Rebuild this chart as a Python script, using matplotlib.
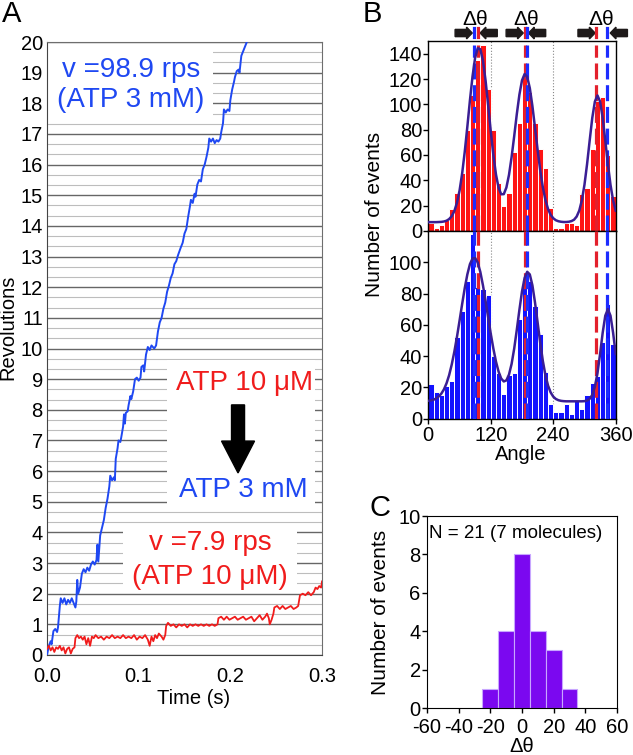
import matplotlib
matplotlib.use("Agg")
import matplotlib.pyplot as plt
import matplotlib.transforms as mtransforms
from matplotlib.patches import Rectangle, FancyArrow
from matplotlib.lines import Line2D

plt.rcParams['font.family'] = ['Liberation Sans', 'DejaVu Sans']
plt.rcParams['axes.unicode_minus'] = False

# ---------------- data: panel A (rotation traces) ----------------
blue_t = [0.000, 0.002, 0.004, 0.005, 0.007, 0.009, 0.011, 0.012, 0.014, 0.015,
          0.017, 0.019, 0.021, 0.023, 0.025, 0.027, 0.029, 0.031, 0.032, 0.033,
          0.034, 0.036, 0.038, 0.040, 0.042, 0.044, 0.046, 0.048, 0.050, 0.052,
          0.054, 0.055, 0.056, 0.058, 0.060, 0.062, 0.064, 0.066, 0.068, 0.069,
          0.071, 0.073, 0.074, 0.075, 0.077, 0.078, 0.080, 0.081, 0.083, 0.084,
          0.085, 0.086, 0.088, 0.089, 0.091, 0.092, 0.094, 0.096, 0.098, 0.100,
          0.102, 0.103, 0.105, 0.106, 0.108, 0.110, 0.112, 0.114, 0.117, 0.119,
          0.121, 0.123, 0.125, 0.127, 0.129, 0.131, 0.133, 0.135, 0.137, 0.139,
          0.141, 0.143, 0.146, 0.148, 0.150, 0.152, 0.154, 0.156, 0.157, 0.159,
          0.161, 0.162, 0.164, 0.166, 0.168, 0.170, 0.172, 0.174, 0.176, 0.177,
          0.179, 0.181, 0.183, 0.185, 0.187, 0.189, 0.190, 0.192, 0.193, 0.195,
          0.197, 0.199, 0.200, 0.202, 0.204, 0.205, 0.207, 0.209, 0.210, 0.212,
          0.214, 0.216, 0.218, 0.220]
blue_rev = [0.00, 0.30, 0.45, 0.35, 0.78, 0.85, 0.75, 0.90, 1.60, 1.85,
            1.70, 1.85, 1.65, 1.80, 1.70, 1.85, 1.70, 1.55, 1.75, 2.45,
            2.00, 2.20, 2.65, 2.80, 2.70, 2.85, 2.75, 2.95, 3.05, 2.95,
            3.10, 3.60, 3.05, 3.90, 4.15, 4.40, 4.80, 5.10, 5.50, 5.85,
            5.70, 5.80, 5.70, 6.40, 6.75, 7.00, 6.95, 7.10, 7.45, 7.85,
            7.55, 7.90, 7.95, 8.15, 8.45, 8.35, 8.60, 9.00, 9.05, 8.95,
            9.05, 9.40, 9.45, 9.25, 9.80, 10.05, 9.95, 10.10, 10.00, 10.10,
            10.55, 10.85, 11.00, 11.30, 11.50, 11.85, 12.05, 12.30, 12.45, 12.75,
            12.85, 13.05, 13.30, 13.45, 13.75, 13.90, 14.30, 14.65, 14.85, 14.75,
            15.05, 14.95, 15.35, 15.50, 15.45, 15.85, 16.00, 16.25, 16.55, 16.85,
            16.75, 16.85, 16.70, 16.80, 16.75, 16.85, 17.05, 17.35, 17.80, 17.70,
            17.80, 17.75, 18.10, 18.45, 18.70, 18.85, 19.05, 19.10, 19.00, 19.55,
            19.70, 19.85, 20.00, 20.15]

red_t = [0.000, 0.002, 0.004, 0.006, 0.008, 0.010, 0.012, 0.014, 0.016, 0.018,
         0.020, 0.022, 0.024, 0.026, 0.028, 0.030, 0.031, 0.033, 0.035, 0.037,
         0.039, 0.041, 0.043, 0.045, 0.047, 0.049, 0.051, 0.053, 0.056, 0.059,
         0.062, 0.065, 0.068, 0.071, 0.074, 0.077, 0.080, 0.083, 0.086, 0.089,
         0.092, 0.095, 0.098, 0.101, 0.104, 0.107, 0.110, 0.112, 0.114, 0.116,
         0.118, 0.120, 0.122, 0.125, 0.127, 0.129, 0.130, 0.132, 0.135, 0.138,
         0.141, 0.144, 0.147, 0.150, 0.153, 0.156, 0.159, 0.162, 0.165, 0.168,
         0.171, 0.174, 0.177, 0.180, 0.183, 0.186, 0.187, 0.190, 0.193, 0.196,
         0.199, 0.202, 0.205, 0.208, 0.211, 0.214, 0.217, 0.220, 0.223, 0.226,
         0.229, 0.232, 0.235, 0.238, 0.240, 0.242, 0.243, 0.245, 0.247, 0.248,
         0.251, 0.254, 0.257, 0.260, 0.263, 0.266, 0.269, 0.272, 0.274, 0.276,
         0.279, 0.282, 0.285, 0.288, 0.291, 0.293, 0.295, 0.297, 0.299, 0.300]
red_rev = [0.20, 0.30, 0.15, 0.25, 0.10, 0.25, 0.20, 0.30, 0.15, 0.25,
           0.05, 0.20, 0.25, 0.05, 0.20, 0.25, 0.55, 0.65, 0.55, 0.60,
           0.50, 0.60, 0.35, 0.55, 0.30, 0.60, 0.55, 0.65, 0.55, 0.60,
           0.50, 0.60, 0.55, 0.65, 0.55, 0.60, 0.55, 0.65, 0.55, 0.60,
           0.55, 0.65, 0.50, 0.60, 0.55, 0.65, 0.50, 0.30, 0.60, 0.45,
           0.65, 0.55, 0.70, 0.60, 0.50, 0.65, 0.95, 1.05, 0.95, 1.00,
           0.90, 1.00, 0.95, 1.00, 0.90, 1.00, 0.95, 1.00, 0.95, 1.00,
           0.95, 1.00, 0.95, 1.00, 0.95, 1.00, 1.20, 1.25, 1.15, 1.25,
           1.15, 1.20, 1.25, 1.15, 1.20, 1.25, 1.15, 1.20, 1.25, 1.10,
           1.20, 1.30, 1.15, 1.25, 1.35, 1.20, 1.00, 1.15, 1.35, 1.55,
           1.60, 1.50, 1.60, 1.50, 1.55, 1.60, 1.50, 1.55, 1.60, 1.95,
           2.00, 1.95, 2.05, 1.95, 2.05, 2.20, 2.15, 2.25, 2.20, 2.40]

# ---------------- data: panel B (angle histograms) ----------------
bin_left = list(range(0, 360, 10))
red_counts = [6, 2, 5, 9, 17, 30, 46, 80, 107, 135,
              147, 112, 80, 38, 20, 30, 62, 85, 122, 110,
              85, 65, 50, 18, 2, 2, 6, 6, 5, 29,
              34, 65, 103, 106, 60, 28]
blue_counts = [22, 17, 15, 21, 24, 52, 69, 88, 118, 84,
               83, 79, 40, 29, 16, 28, 29, 64, 88, 88,
               72, 54, 30, 9, 4, 4, 9, 3, 11, 6,
               15, 23, 27, 49, 73, 48]

fit_angle = list(range(0, 361, 5))
red_fit = [7.0, 7.0, 7.0, 7.0, 7.1, 7.2, 7.5, 8.1, 9.4, 11.7,
           15.7, 22.2, 31.8, 45.3, 62.5, 82.3, 103.2, 122.2, 136.9, 144.3,
           143.5, 134.4, 118.8, 99.2, 78.7, 59.9, 44.6, 34.2, 29.0, 29.1,
           34.3, 44.3, 58.3, 74.8, 92.2, 107.6, 118.9, 123.9, 121.7, 112.8,
           98.6, 81.5, 64.0, 47.9, 34.6, 24.5, 17.4, 12.8, 10.1, 8.5,
           7.7, 7.3, 7.1, 7.1, 7.3, 7.8, 8.9, 11.4, 16.1, 24.2,
           36.5, 52.8, 71.4, 89.3, 102.2, 107.0, 102.2, 89.3, 71.4, 52.8,
           36.5, 24.2, 16.1]
blue_fit = [11.3, 11.6, 12.0, 12.8, 14.1, 15.9, 18.6, 22.5, 27.7, 34.5,
            42.7, 52.1, 62.5, 73.2, 83.4, 92.2, 98.8, 102.4, 102.7, 99.8,
            93.7, 85.2, 75.3, 64.6, 54.2, 44.7, 36.4, 30.0, 25.6, 23.7,
            24.4, 28.1, 34.9, 44.7, 56.7, 69.5, 81.3, 89.9, 93.9, 92.2,
            85.2, 74.2, 61.4, 48.4, 36.9, 27.7, 21.1, 16.7, 14.0, 12.5,
            11.7, 11.3, 11.1, 11.0, 11.0, 11.0, 11.0, 11.0, 11.0, 11.0,
            11.1, 11.5, 12.6, 15.1, 20.3, 29.1, 41.3, 54.9, 65.8, 70.0,
            65.8, 54.9, 41.3]

red_centers = [96, 185, 323]
blue_centers = [87, 190, 344]
# (left arrow tip, right arrow tip, delta-theta label position) in degrees
pair_arrows = [(84.5, 99.5, 91), (182.5, 192.5, 188), (320.5, 349.5, 332)]

# ---------------- data: panel C (delta theta histogram) ----------------
dtheta_centers = [-20, -10, 0, 10, 20, 30]
dtheta_counts = [1, 4, 8, 4, 3, 1]

# ---------------- styling ----------------
W, H = 633, 755
A_BLUE = '#1f48f2'
A_RED = '#f01c1c'
B_RED = '#ff1414'
B_BLUE = '#1212ff'
D_RED = '#e3202c'
D_BLUE = '#1c2cff'
FIT = '#3a1e94'
PURPLE = '#7b08f0'
TICK_FS = 14.5


def rect(x0, y0, x1, y1):
    # pixel box (origin top-left) -> figure fraction
    return [x0 / W, 1 - y1 / H, (x1 - x0) / W, (y1 - y0) / H]


fig = plt.figure(figsize=(W / 100, H / 100), dpi=100)

# ================= Panel A =================
axA = fig.add_axes(rect(47, 42, 322, 655))
axA.set_axisbelow(True)
axA.plot(blue_t, blue_rev, color=A_BLUE, lw=1.4, zorder=3)
axA.plot(red_t, red_rev, color=A_RED, lw=1.3, zorder=3)
axA.set_xlim(0, 0.3)
axA.set_ylim(0, 20)
axA.set_yticks(range(0, 21))
axA.set_yticks([k / 3 for k in range(60) if k % 3], minor=True)
axA.grid(which='major', axis='y', color='#666666', lw=1.0)
axA.grid(which='minor', axis='y', color='#bdbdbd', lw=0.8)
axA.set_xticks([0, 0.1, 0.2, 0.3])
axA.set_xticklabels(['0.0', '0.1', '0.2', '0.3'])
axA.tick_params(which='both', length=0, labelsize=TICK_FS, pad=3)
axA.tick_params(axis='x', pad=9)
for s in axA.spines.values():
    s.set_color('#6e6e6e')
axA.spines['left'].set_color('#444444')
axA.spines['bottom'].set_color('#444444')

# white label boxes over the grid
for (x0, y0, x1, y1) in [(0.0015, 17.5, 0.181, 19.85),
                         (0.131, 4.8, 0.292, 9.62),
                         (0.083, 2.06, 0.273, 4.24)]:
    axA.add_patch(Rectangle((x0, y0), x1 - x0, y1 - y0, facecolor='white',
                            edgecolor='none', zorder=1))

axA.text(0.0917, 19.09, 'v =98.9 rps', color=A_BLUE, fontsize=20, ha='center', va='center', zorder=4)
axA.text(0.0917, 18.10, '(ATP 3 mM)', color=A_BLUE, fontsize=20, ha='center', va='center', zorder=4)
axA.text(0.215, 8.87, 'ATP 10 μM', color=A_RED, fontsize=20, ha='center', va='center', zorder=4)
axA.text(0.214, 5.38, 'ATP 3 mM', color=A_BLUE, fontsize=20, ha='center', va='center', zorder=4)
axA.text(0.178, 3.65, 'v =7.9 rps', color=A_RED, fontsize=20, ha='center', va='center', zorder=4)
axA.text(0.178, 2.55, '(ATP 10 μM)', color=A_RED, fontsize=20, ha='center', va='center', zorder=4)
axA.add_patch(FancyArrow(0.2084, 8.16, 0, -2.22, width=0.0142, head_width=0.036,
                         head_length=1.04, length_includes_head=True,
                         color='black', zorder=4))

fig.text(8 / W, 1 - 327 / H, 'Revolutions', rotation=90, fontsize=14.5, ha='center', va='center')
fig.text(193.5 / W, 1 - 699 / H, 'Time (s)', fontsize=14.5, ha='center', va='center')
fig.text(12 / W, 1 - 14 / H, 'A', fontsize=21, ha='center', va='center')

# ================= Panel B =================
axB1 = fig.add_axes(rect(428.3, 41, 615.7, 231))
axB2 = fig.add_axes(rect(428.3, 231, 615.7, 418.5))

for ax, counts, col, fit, ylim, yt in [
        (axB1, red_counts, B_RED, red_fit, 150, range(0, 141, 20)),
        (axB2, blue_counts, B_BLUE, blue_fit, 120, range(0, 101, 20))]:
    ax.bar(bin_left, counts, width=10, align='edge', color=col,
           edgecolor='white', linewidth=0.7, zorder=2)
    for a in (120, 240):
        ax.axvline(a, color='#888888', ls=':', lw=0.8, zorder=1)
    for a in red_centers:
        ax.axvline(a, color=D_RED, lw=2.3, dashes=(5, 1.8), zorder=3,
                   ymax=0.98 if ax is axB1 else 1)
    for a in blue_centers:
        ax.axvline(a, color=D_BLUE, lw=2.3, dashes=(5, 1.8), zorder=3,
                   ymax=0.98 if ax is axB1 else 1)
    ax.plot(fit_angle, fit, color=FIT, lw=1.8, zorder=4)
    ax.set_xlim(0, 360)
    ax.set_ylim(0, ylim)
    ax.set_yticks(list(yt))
    ax.tick_params(axis='y', direction='out', length=3.5, width=1, pad=1, labelsize=TICK_FS)
    for s in ax.spines.values():
        s.set_linewidth(1.0)

axB1.set_xticks([0, 120, 240, 360])
axB1.tick_params(axis='x', length=0, labelbottom=False)
axB2.set_xticks([0, 120, 240, 360])
axB2.tick_params(axis='x', direction='out', length=3.5, width=1, pad=2, labelsize=TICK_FS)

# arrows and delta-theta labels above panel B
btr = mtransforms.blended_transform_factory(axB1.transData, axB1.transAxes)
arrow_len = 33
for (lt, rt, lab) in pair_arrows:
    axB1.add_patch(FancyArrow(lt - arrow_len, 1.042, arrow_len, 0, width=0.038,
                              head_width=0.062, head_length=11, length_includes_head=True,
                              color='#1e1a1a', transform=btr, clip_on=False))
    axB1.add_patch(FancyArrow(rt + arrow_len, 1.042, -arrow_len, 0, width=0.038,
                              head_width=0.062, head_length=11, length_includes_head=True,
                              color='#1e1a1a', transform=btr, clip_on=False))
    axB1.text(lab, 1.113, 'Δθ', transform=btr, fontsize=15, ha='center', va='center')
for a in red_centers:
    axB1.add_line(Line2D([a, a], [1.02, 1.066], color=D_RED, lw=2.3,
                         transform=btr, clip_on=False))
for a in blue_centers:
    axB1.add_line(Line2D([a, a], [1.02, 1.066], color=D_BLUE, lw=2.3,
                         transform=btr, clip_on=False))

fig.text(375 / W, 1 - 214 / H, 'Number of events', rotation=90, fontsize=15, ha='center', va='center')
fig.text(521 / W, 1 - 455 / H, 'Angle', fontsize=14.5, ha='center', va='center')
fig.text(372 / W, 1 - 14 / H, 'B', fontsize=21, ha='center', va='center')

# ================= Panel C =================
axC = fig.add_axes(rect(427, 516, 617, 708))
axC.bar(dtheta_centers, dtheta_counts, width=10, color=PURPLE,
        edgecolor='#c8a6ff', linewidth=0.8)
axC.set_xlim(-60, 60)
axC.set_ylim(0, 10)
axC.set_xticks(range(-60, 61, 20))
axC.set_yticks(range(0, 11, 2))
axC.tick_params(direction='out', length=3.5, width=1, pad=1, labelsize=TICK_FS)
axC.tick_params(axis='x', pad=4)
axC.text(0.012, 0.909, 'N = 21 (7 molecules)', transform=axC.transAxes,
         fontsize=13.5, ha='left', va='center')

fig.text(380 / W, 1 - 612 / H, 'Number of events', rotation=90, fontsize=15, ha='center', va='center')
fig.text(522 / W, 1 - 746 / H, 'Δθ', fontsize=14.5, ha='center', va='center')
fig.text(380 / W, 1 - 508 / H, 'C', fontsize=21, ha='center', va='center')

fig.savefig('out.png', dpi=100)
